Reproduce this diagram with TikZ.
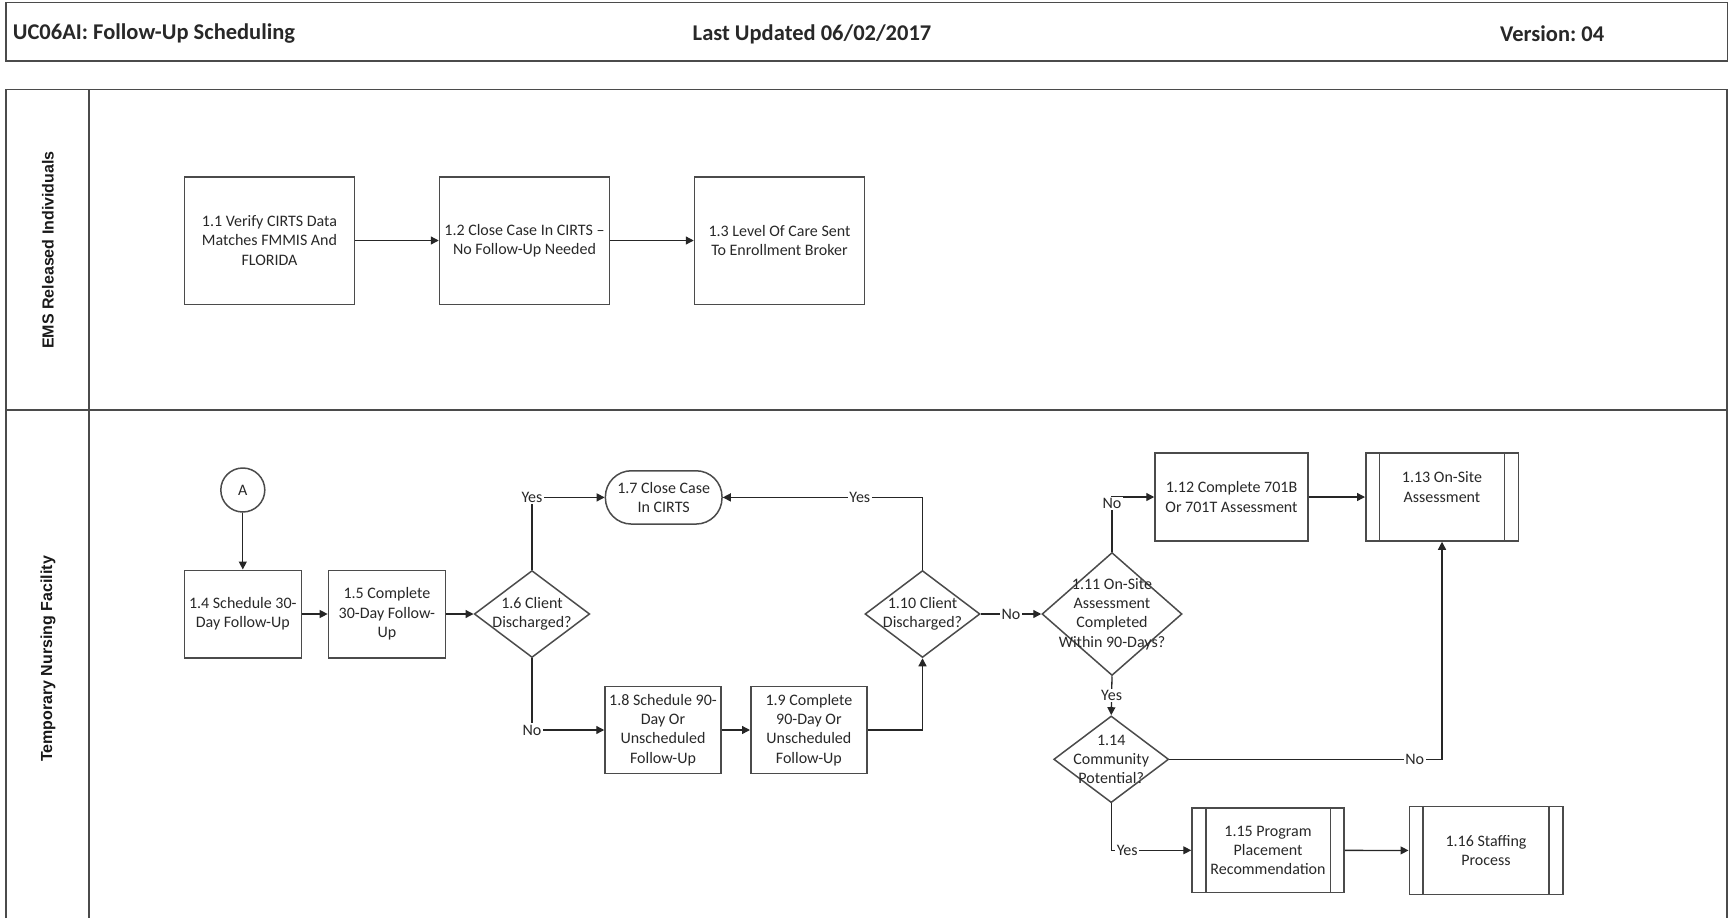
\documentclass[tikz,border=0pt]{standalone}
\usepackage{fontspec}
\setmainfont{Carlito}
\newfontfamily\lanefont{Liberation Sans}
\usetikzlibrary{arrows.meta,shapes.geometric,calc}
\definecolor{bordc}{RGB}{75,75,75}
\definecolor{txtc}{RGB}{40,40,40}
\frenchspacing
\tikzset{
  base/.style={draw=bordc, line width=1.5pt, text=txtc, font=\fontsize{16}{19.3}\selectfont, align=center, inner sep=0pt},
  procbox/.style={base, rectangle},
  termbox/.style={base, rectangle, rounded corners=26pt},
  dia/.style={base, diamond},
  dtext/.style={text=txtc, font=\fontsize{16}{19.3}\selectfont, align=center, inner sep=0pt},
  conn/.style={draw=black!85, line width=1.3pt, -{Triangle[length=8pt,width=8pt]}},
  elab/.style={fill=white, text=txtc, font=\fontsize{16}{19.3}\selectfont, inner sep=1.5pt},
  hdr/.style={text=txtc, font=\bfseries\fontsize{22.5}{26}\selectfont, inner sep=0pt},
  lane/.style={text=black!90, rotate=90, font={\lanefont\bfseries\fontsize{16}{19}\selectfont}, inner sep=0pt},
  frame/.style={draw=bordc, line width=1.5pt}
}
\begin{document}
\begin{tikzpicture}[x=1pt,y=-1pt]
\useasboundingbox (0,0) rectangle (1731,918);
% header
\draw[frame] (6,2.7) rectangle (1727.5,61);
\node[hdr, anchor=west] (h1) at (12.7,34) {UC06AI: Follow-Up Scheduling};
\node[hdr] (h2) at (812,34) {Last Updated 06/02/2017};
\node[hdr, anchor=west] (h3) at (1500,34) {Version: 04};
% lanes
\draw[frame] (6,918) -- (6,89.5) -- (1727,89.5) -- (1727,918);
\draw[frame] (89,89.5) -- (89,918);
\draw[frame] (6,410) -- (1727,410);
\node[lane] (l1) at (48,250) {EMS Released Individuals};
\node[lane] (l2) at (48,659) {Temporary Nursing Facility};
% lane 1
\node[procbox, minimum width=170pt, minimum height=127.5pt] (b11) at (269.5,240.5) {1.1 Verify CIRTS Data\\Matches FMMIS And\\FLORIDA};
\node[procbox, minimum width=170pt, minimum height=127.5pt] (b12) at (524.5,240.5) {1.2 Close Case In CIRTS --\\No Follow-Up Needed};
\node[procbox, minimum width=170pt, minimum height=127.5pt] (b13) at (779.5,240.5) {1.3 Level Of Care Sent\\To Enrollment Broker};
\draw[conn] (b11) -- (b12);
\draw[conn] (b12) -- (b13);
% lane 2
\node[base, circle, minimum size=44pt] (ca) at (242.8,490) {A};
\node[procbox, minimum width=117pt, minimum height=87.5pt] (b14) at (242.8,614) {1.4 Schedule 30-\\Day Follow-Up};
\node[procbox, minimum width=117pt, minimum height=87.5pt] (b15) at (386.9,614) {1.5 Complete\\30-Day Follow-\\Up};
\node[dia, minimum width=115.5pt, minimum height=87pt] (d16) at (532,614) {};
\node[dtext] (d16t) at (d16.center) {1.6 Client\\Discharged?};
\node[termbox, minimum width=116.6pt, minimum height=53.3pt] (t17) at (663.7,497.4) {1.7 Close Case\\In CIRTS};
\node[procbox, minimum width=116pt, minimum height=86.6pt] (b18) at (663,730) {1.8 Schedule 90-\\Day Or\\Unscheduled\\Follow-Up};
\node[procbox, minimum width=116.3pt, minimum height=86.6pt] (b19) at (808.9,730) {1.9 Complete\\90-Day Or\\Unscheduled\\Follow-Up};
\node[dia, minimum width=115pt, minimum height=87pt] (d110) at (922.5,614) {};
\node[dtext] (d110t) at (d110.center) {1.10 Client\\Discharged?};
\node[dia, minimum width=140pt, minimum height=123pt] (d111) at (1112,614) {};
\node[dtext] (d111t) at (d111.center) {1.11 On-Site\\Assessment\\Completed\\Within 90-Days?};
\node[procbox, minimum width=153pt, minimum height=88pt] (b112) at (1231.5,497) {1.12 Complete 701B\\Or 701T Assessment};
\node[procbox, minimum width=152.5pt, minimum height=88pt] (p113) at (1442,497) {};
\node[dtext] (p113t) at (1442,487) {1.13 On-Site\\Assessment};
\node[dia, minimum width=115pt, minimum height=86.7pt] (d114) at (1111.2,759.3) {};
\node[dtext] (d114t) at (d114.center) {1.14\\Community\\Potential?};
\node[procbox, minimum width=152pt, minimum height=84.5pt] (p115) at (1268,850.3) {1.15 Program\\Placement\\Recommendation};
\node[procbox, minimum width=153.5pt, minimum height=87.6pt] (p116) at (1486,850.5) {1.16 Staffing\\Process};
\foreach \n in {p113,p115,p116}{
  \draw[draw=bordc, line width=1.5pt] ([xshift=14.5pt]\n.north west) -- ([xshift=14.5pt]\n.south west);
  \draw[draw=bordc, line width=1.5pt] ([xshift=-14.5pt]\n.north east) -- ([xshift=-14.5pt]\n.south east);
}
% connectors
\draw[conn] (ca) -- (b14);
\draw[conn] (b14) -- (b15);
\draw[conn] (b15) -- (d16);
\draw[conn] (d16.north) |- node[elab, pos=0.5] (y16) {Yes} (t17.west);
\draw[conn] (d16.south) |- node[elab, pos=0.5] (n16) {No} (b18.west);
\draw[conn] (b18) -- (b19);
\draw[conn] (b19.east) -| (d110.south);
\draw[conn] (d110.north) |- node[elab, pos=0.657] (y110) {Yes} (t17.east);
\draw[conn] (d110.east) -- node[elab] (n110) {No} (d111.west);
\draw[conn] (d111.north) |- node[elab, pos=0.44] (n111) {No} (b112.west);
\draw[conn] (b112) -- (p113);
\draw[conn] (d111.south) -- node[elab] (y111) {Yes} (d114.north);
\draw[conn] (d114.east) -| node[elab, pos=0.45] (n114) {No} (p113.south);
\draw[conn] (d114.south) |- node[elab, pos=0.6] (y114) {Yes} (p115.west);
\draw[conn] (p115) -- (p116);
\end{tikzpicture}
\end{document}
